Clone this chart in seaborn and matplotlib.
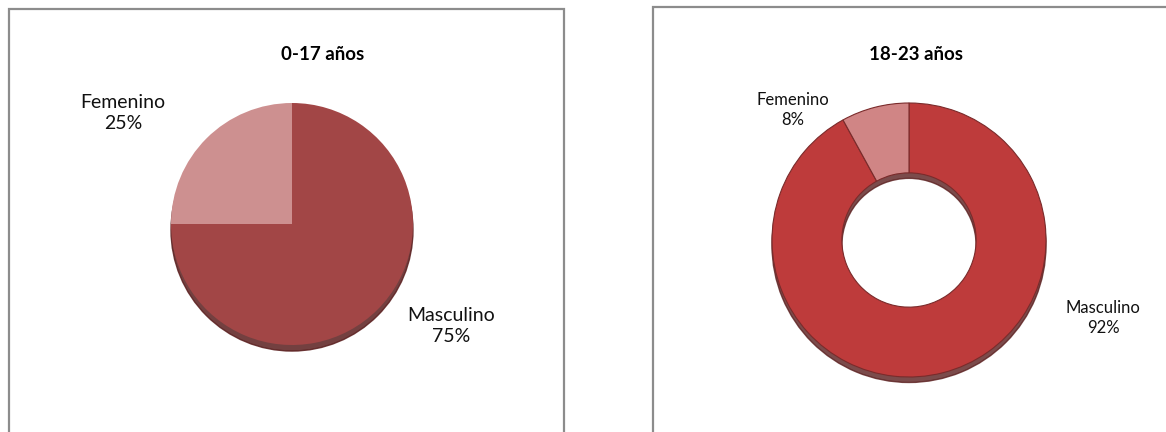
import matplotlib
matplotlib.use("Agg")
import matplotlib.pyplot as plt
import seaborn as sns
from matplotlib.patches import Rectangle, Circle, Wedge

# data
labels = ["Masculino", "Femenino"]
vals_0_17 = [75, 25]
vals_18_23 = [92, 8]
titles = ["0-17 años", "18-23 años"]

sns.set_theme(style="white")
plt.rcParams['font.family'] = ['Lato', 'DejaVu Sans']

W, H = 1166, 432
fig = plt.figure(figsize=(W / 100, H / 100), dpi=100)
PAD = 1.15


def fx(px):
    return px / W


def fy(py):
    return 1 - py / H


def pie_axes(cx, cy, r):
    rr = r * PAD
    ax = fig.add_axes([fx(cx - rr), fy(cy + rr), 2 * rr / W, 2 * rr / H])
    ax.axis("off")
    return ax


# panel borders
for x0, y0, x1, y1 in [(9, 9, 564, 445), (653, 7, 1185, 445)]:
    fig.add_artist(Rectangle((fx(x0), fy(y1)), fx(x1) - fx(x0), fy(y0) - fy(y1),
                             transform=fig.transFigure, fill=False,
                             edgecolor="#8c8c8c", lw=1.6))

# ---- left: pie 0-17
ax1 = pie_axes(292, 224, 121)
ax1.add_patch(Circle((0.0, -0.05), 1.0, color="#5a1e1e", alpha=0.85, zorder=0))
ax1.pie(vals_0_17, colors=["#A24646", "#CD9090"], startangle=90,
        counterclock=False, radius=1.0, frame=False,
        wedgeprops=dict(linewidth=0))
ax1.set_xlim(-PAD, PAD)
ax1.set_ylim(-PAD, PAD)
ax1.set_aspect("auto")

fig.text(fx(323), fy(54), titles[0], ha="center", va="center",
         fontsize=13.5, fontweight="bold", color="black")
pct1 = [f"{v / sum(vals_0_17) * 100:.0f}%" for v in vals_0_17]
fig.text(fx(451), fy(326), f"{labels[0]}\n{pct1[0]}", ha="center", va="center",
         fontsize=14, linespacing=1.3, color="#111111")
fig.text(fx(123), fy(113), f"{labels[1]}\n{pct1[1]}", ha="center", va="center",
         fontsize=14, linespacing=1.3, color="#111111")

# ---- right: donut 18-23
ax2 = pie_axes(909, 240, 137)
ax2.add_patch(Wedge((0.0, -0.04), 1.0, 0, 360, width=0.51, color="#5a1e1e",
                    alpha=0.8, zorder=0))
ax2.pie(vals_18_23, colors=["#BE3B3B", "#D08585"], startangle=90,
        counterclock=False, radius=1.0, frame=False,
        wedgeprops=dict(width=0.51, edgecolor="#7a2b2b", linewidth=0.8))
ax2.set_xlim(-PAD, PAD)
ax2.set_ylim(-PAD, PAD)
ax2.set_aspect("auto")

fig.text(fx(916), fy(54), titles[1], ha="center", va="center",
         fontsize=13.5, fontweight="bold", color="black")
pct2 = [f"{v / sum(vals_18_23) * 100:.0f}%" for v in vals_18_23]
fig.text(fx(1103), fy(318), f"{labels[0]}\n{pct2[0]}", ha="center", va="center",
         fontsize=12, linespacing=1.3, color="#111111")
fig.text(fx(793), fy(110), f"{labels[1]}\n{pct2[1]}", ha="center", va="center",
         fontsize=12, linespacing=1.3, color="#111111")

fig.savefig("out.png", dpi=100)
